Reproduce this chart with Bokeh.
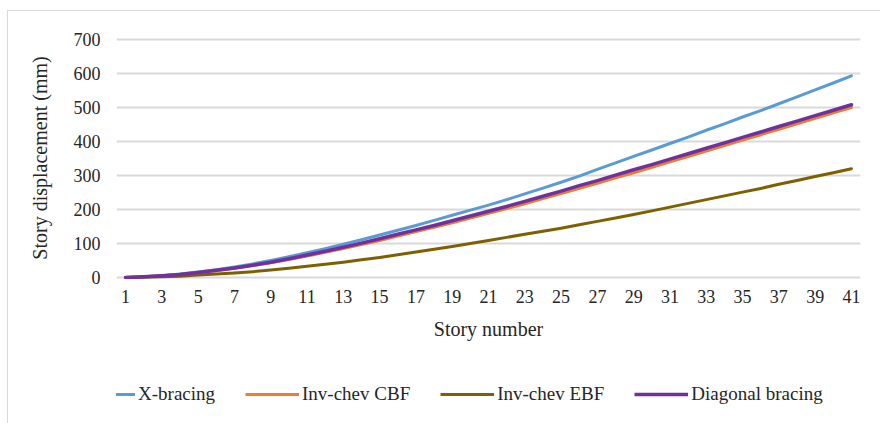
from bokeh.plotting import figure
from bokeh.layouts import column
from bokeh.models import Range1d, FixedTicker, Legend, LegendItem
from bokeh.embed import file_html
from bokeh.resources import INLINE

stories = list(range(1, 42))
x_bracing = [0, 2, 5, 10, 16, 23, 31, 40, 50, 61, 73, 85, 98, 111, 125, 139, 153, 168, 183, 198, 213,
             229, 246, 263, 280, 298, 318, 337, 356, 375, 394, 413, 433, 452, 472, 491, 511, 531, 552, 572, 593]
inv_chev_cbf = [0, 2, 5, 9, 14, 20, 27, 35, 43, 53, 63, 74, 85, 97, 109, 122, 135, 148, 161, 175, 189,
                203, 217, 232, 247, 262, 277, 293, 308, 324, 340, 356, 372, 388, 404, 420, 436, 452, 468, 484, 500]
inv_chev_ebf = [0, 1, 2, 4, 7, 10, 13, 17, 22, 27, 33, 39, 45, 52, 59, 67, 75, 83, 91, 100, 109,
                118, 127, 136, 145, 155, 165, 175, 185, 196, 207, 218, 229, 240, 251, 262, 274, 285, 297, 308, 320]
diagonal_bracing = [0, 2, 5, 9, 15, 21, 28, 36, 45, 55, 66, 77, 89, 101, 114, 127, 140, 153, 167, 181, 195,
                    209, 224, 239, 254, 270, 285, 301, 317, 332, 348, 364, 380, 396, 412, 428, 444, 460, 476, 492, 508]
series_names = ["X-bracing", "Inv-chev CBF", "Inv-chev EBF", "Diagonal bracing"]
y_ticks = [0, 100, 200, 300, 400, 500, 600, 700]
x_ticks = list(range(1, 42, 2))

FONT = "Liberation Serif"
TXT = "#262626"
colors = ["#5B9BD5", "#ED7D31", "#7F6000", "#7030A0"]
widths = [3, 3, 3, 3.5]
data = [x_bracing, inv_chev_cbf, inv_chev_ebf, diagonal_bracing]

# main chart (chart box starts at (7, 10) of the window, bordered on top and left)
p = figure(frame_width=744, frame_height=243,
           min_border_left=108, min_border_top=25, min_border_right=20, min_border_bottom=70,
           x_range=Range1d(0.5, 41.5), y_range=Range1d(-5.9, 708.8),
           output_backend="svg", toolbar_location=None)
p.outline_line_color = None
p.background_fill_color = "white"
p.border_fill_color = "white"

for name, ys, c, w in zip(series_names, data, colors, widths):
    p.line(stories, ys, line_color=c, line_width=w, line_cap="round", line_join="round")

p.xaxis.ticker = FixedTicker(ticks=x_ticks)
p.yaxis.ticker = FixedTicker(ticks=y_ticks)
for ax in (p.xaxis[0], p.yaxis[0]):
    ax.axis_line_color = None
    ax.major_tick_line_color = None
    ax.minor_tick_line_color = None
    ax.major_tick_out = 0
    ax.major_tick_in = 0
    ax.major_label_text_font = FONT
    ax.major_label_text_font_size = "18px"
    ax.major_label_text_color = TXT
    ax.axis_label_text_font = FONT
    ax.axis_label_text_font_size = "20px"
    ax.axis_label_text_font_style = "normal"
    ax.axis_label_text_color = TXT
p.xaxis.axis_label = "Story number"
p.yaxis.axis_label = "Story displacement (mm)"
p.xaxis.major_label_standoff = 10
p.xaxis.axis_label_standoff = 12
p.yaxis.major_label_standoff = 16
p.yaxis.axis_label_standoff = 20

p.xgrid.grid_line_color = None
p.ygrid.grid_line_color = "#D9D9D9"
p.ygrid.grid_line_width = 2

# legend strip below the chart: same series, ranges chosen so only the legend shows
lf = figure(width=872, height=74, min_border=0,
            x_axis_location=None, y_axis_location=None,
            x_range=Range1d(100, 101), y_range=Range1d(5000, 5001),
            output_backend="svg", toolbar_location=None)
lf.grid.visible = False
lf.outline_line_color = None
lf.background_fill_color = "white"
lf.border_fill_color = "white"
items = []
for name, ys, c, w in zip(series_names, data, colors, widths):
    r = lf.line(stories, ys, line_color=c, line_width=w)
    items.append(LegendItem(label=name, renderers=[r]))
legend = Legend(items=items, orientation="horizontal", location=(-35, 18),
                label_text_font=FONT, label_text_font_size="19px", label_text_color=TXT,
                glyph_width=54, glyph_height=20, label_standoff=3, spacing=30,
                padding=0, margin=0, border_line_color=None, background_fill_alpha=0)
lf.add_layout(legend, "center")

layout = column(p, lf, spacing=0)
layout.styles = {"margin-left": "7px", "margin-top": "10px",
                 "border-left": "1px solid #D9D9D9", "border-top": "1px solid #D9D9D9"}

open("out.html", "w").write(file_html(layout, INLINE))
